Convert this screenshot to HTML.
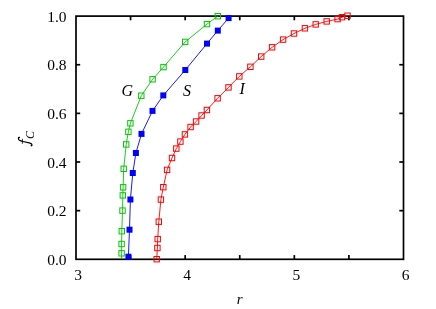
<!DOCTYPE html>
<html><head><meta charset="utf-8"><title>plot</title>
<style>
html,body{margin:0;padding:0;background:#fff;}
body{width:436px;height:309px;overflow:hidden;font-family:"Liberation Serif",serif;}
svg{display:block;position:absolute;left:0;top:0;will-change:transform;opacity:0.999;}
text{font-family:"Liberation Serif",serif;fill:#000;}
</style></head><body>
<svg width="436" height="309" viewBox="0 0 436 309">
<rect x="0" y="0" width="436" height="309" fill="#fff"/>
<g stroke="#000" stroke-width="1.7" fill="none" stroke-linecap="butt">
<rect x="76.0" y="16.1" width="327.5" height="243.20000000000002"/>
<line x1="130.58" y1="259.3" x2="130.58" y2="255.10000000000002"/>
<line x1="130.58" y1="16.1" x2="130.58" y2="20.3"/>
<line x1="185.17" y1="259.3" x2="185.17" y2="255.10000000000002"/>
<line x1="185.17" y1="16.1" x2="185.17" y2="20.3"/>
<line x1="239.75" y1="259.3" x2="239.75" y2="255.10000000000002"/>
<line x1="239.75" y1="16.1" x2="239.75" y2="20.3"/>
<line x1="294.33" y1="259.3" x2="294.33" y2="255.10000000000002"/>
<line x1="294.33" y1="16.1" x2="294.33" y2="20.3"/>
<line x1="348.92" y1="259.3" x2="348.92" y2="255.10000000000002"/>
<line x1="348.92" y1="16.1" x2="348.92" y2="20.3"/>
<line x1="76.0" y1="210.66" x2="80.2" y2="210.66"/>
<line x1="403.5" y1="210.66" x2="399.3" y2="210.66"/>
<line x1="76.0" y1="162.02" x2="80.2" y2="162.02"/>
<line x1="403.5" y1="162.02" x2="399.3" y2="162.02"/>
<line x1="76.0" y1="113.38" x2="80.2" y2="113.38"/>
<line x1="403.5" y1="113.38" x2="399.3" y2="113.38"/>
<line x1="76.0" y1="64.74" x2="80.2" y2="64.74"/>
<line x1="403.5" y1="64.74" x2="399.3" y2="64.74"/>
</g>
<polyline points="347.5,15.7 342.0,17.2 337.6,19.1 326.7,21.4 315.7,24.4 304.9,28.3 294.0,33.5 283.1,39.6 272.1,47.3 261.2,56.6 250.4,66.8 239.3,76.4 228.5,87.4 217.6,98.3 206.9,110.0 201.6,115.5 196.1,121.5 190.6,127.0 184.9,134.4 180.4,141.6 176.3,148.6 172.0,158.0 167.1,169.9 163.3,187.2 160.9,199.6 158.8,221.7 157.7,239.1 157.4,248.0 156.7,259.2" fill="none" stroke="#ff0000" stroke-width="0.9"/>
<rect x="344.8" y="13.0" width="5.4" height="5.4" fill="none" stroke="#ff0000" stroke-width="1"/>
<rect x="339.3" y="14.5" width="5.4" height="5.4" fill="none" stroke="#ff0000" stroke-width="1"/>
<rect x="334.9" y="16.4" width="5.4" height="5.4" fill="none" stroke="#ff0000" stroke-width="1"/>
<rect x="324.0" y="18.7" width="5.4" height="5.4" fill="none" stroke="#ff0000" stroke-width="1"/>
<rect x="313.0" y="21.7" width="5.4" height="5.4" fill="none" stroke="#ff0000" stroke-width="1"/>
<rect x="302.2" y="25.6" width="5.4" height="5.4" fill="none" stroke="#ff0000" stroke-width="1"/>
<rect x="291.3" y="30.8" width="5.4" height="5.4" fill="none" stroke="#ff0000" stroke-width="1"/>
<rect x="280.4" y="36.9" width="5.4" height="5.4" fill="none" stroke="#ff0000" stroke-width="1"/>
<rect x="269.4" y="44.6" width="5.4" height="5.4" fill="none" stroke="#ff0000" stroke-width="1"/>
<rect x="258.5" y="53.9" width="5.4" height="5.4" fill="none" stroke="#ff0000" stroke-width="1"/>
<rect x="247.7" y="64.1" width="5.4" height="5.4" fill="none" stroke="#ff0000" stroke-width="1"/>
<rect x="236.6" y="73.7" width="5.4" height="5.4" fill="none" stroke="#ff0000" stroke-width="1"/>
<rect x="225.8" y="84.7" width="5.4" height="5.4" fill="none" stroke="#ff0000" stroke-width="1"/>
<rect x="214.9" y="95.6" width="5.4" height="5.4" fill="none" stroke="#ff0000" stroke-width="1"/>
<rect x="204.2" y="107.3" width="5.4" height="5.4" fill="none" stroke="#ff0000" stroke-width="1"/>
<rect x="198.9" y="112.8" width="5.4" height="5.4" fill="none" stroke="#ff0000" stroke-width="1"/>
<rect x="193.4" y="118.8" width="5.4" height="5.4" fill="none" stroke="#ff0000" stroke-width="1"/>
<rect x="187.9" y="124.3" width="5.4" height="5.4" fill="none" stroke="#ff0000" stroke-width="1"/>
<rect x="182.2" y="131.7" width="5.4" height="5.4" fill="none" stroke="#ff0000" stroke-width="1"/>
<rect x="177.7" y="138.9" width="5.4" height="5.4" fill="none" stroke="#ff0000" stroke-width="1"/>
<rect x="173.6" y="145.9" width="5.4" height="5.4" fill="none" stroke="#ff0000" stroke-width="1"/>
<rect x="169.3" y="155.3" width="5.4" height="5.4" fill="none" stroke="#ff0000" stroke-width="1"/>
<rect x="164.4" y="167.2" width="5.4" height="5.4" fill="none" stroke="#ff0000" stroke-width="1"/>
<rect x="160.6" y="184.5" width="5.4" height="5.4" fill="none" stroke="#ff0000" stroke-width="1"/>
<rect x="158.2" y="196.9" width="5.4" height="5.4" fill="none" stroke="#ff0000" stroke-width="1"/>
<rect x="156.1" y="219.0" width="5.4" height="5.4" fill="none" stroke="#ff0000" stroke-width="1"/>
<rect x="155.0" y="236.4" width="5.4" height="5.4" fill="none" stroke="#ff0000" stroke-width="1"/>
<rect x="154.7" y="245.3" width="5.4" height="5.4" fill="none" stroke="#ff0000" stroke-width="1"/>
<rect x="154.0" y="256.5" width="5.4" height="5.4" fill="none" stroke="#ff0000" stroke-width="1"/>
<polyline points="217.8,16.2 207.0,24.1 185.2,41.9 163.5,67.1 152.6,79.3 141.3,95.7 130.4,123.3 128.4,131.8 126.2,144.4 123.7,168.8 123.1,187.3 122.8,195.4 122.5,210.6 121.8,231.2 121.6,244.0 121.6,253.3 121.5,259.0" fill="none" stroke="#00c800" stroke-width="0.9"/>
<rect x="215.1" y="13.5" width="5.4" height="5.4" fill="none" stroke="#00c800" stroke-width="1"/>
<rect x="204.3" y="21.4" width="5.4" height="5.4" fill="none" stroke="#00c800" stroke-width="1"/>
<rect x="182.5" y="39.2" width="5.4" height="5.4" fill="none" stroke="#00c800" stroke-width="1"/>
<rect x="160.8" y="64.4" width="5.4" height="5.4" fill="none" stroke="#00c800" stroke-width="1"/>
<rect x="149.9" y="76.6" width="5.4" height="5.4" fill="none" stroke="#00c800" stroke-width="1"/>
<rect x="138.6" y="93.0" width="5.4" height="5.4" fill="none" stroke="#00c800" stroke-width="1"/>
<rect x="127.7" y="120.6" width="5.4" height="5.4" fill="none" stroke="#00c800" stroke-width="1"/>
<rect x="125.7" y="129.1" width="5.4" height="5.4" fill="none" stroke="#00c800" stroke-width="1"/>
<rect x="123.5" y="141.7" width="5.4" height="5.4" fill="none" stroke="#00c800" stroke-width="1"/>
<rect x="121.0" y="166.1" width="5.4" height="5.4" fill="none" stroke="#00c800" stroke-width="1"/>
<rect x="120.4" y="184.6" width="5.4" height="5.4" fill="none" stroke="#00c800" stroke-width="1"/>
<rect x="120.1" y="192.7" width="5.4" height="5.4" fill="none" stroke="#00c800" stroke-width="1"/>
<rect x="119.8" y="207.9" width="5.4" height="5.4" fill="none" stroke="#00c800" stroke-width="1"/>
<rect x="119.1" y="228.5" width="5.4" height="5.4" fill="none" stroke="#00c800" stroke-width="1"/>
<rect x="118.9" y="241.3" width="5.4" height="5.4" fill="none" stroke="#00c800" stroke-width="1"/>
<rect x="118.9" y="250.6" width="5.4" height="5.4" fill="none" stroke="#00c800" stroke-width="1"/>
<polyline points="228.6,18.1 217.8,30.6 207.0,43.6 185.3,70.0 163.3,95.4 152.5,110.9 141.5,133.9 135.9,153.0 132.8,173.0 130.4,199.5 129.5,229.7 128.4,256.7" fill="none" stroke="#0000ff" stroke-width="0.9"/>
<rect x="225.6" y="15.1" width="6.0" height="6.0" fill="#0000ff"/>
<rect x="214.8" y="27.6" width="6.0" height="6.0" fill="#0000ff"/>
<rect x="204.0" y="40.6" width="6.0" height="6.0" fill="#0000ff"/>
<rect x="182.3" y="67.0" width="6.0" height="6.0" fill="#0000ff"/>
<rect x="160.3" y="92.4" width="6.0" height="6.0" fill="#0000ff"/>
<rect x="149.5" y="107.9" width="6.0" height="6.0" fill="#0000ff"/>
<rect x="138.5" y="130.9" width="6.0" height="6.0" fill="#0000ff"/>
<rect x="132.9" y="150.0" width="6.0" height="6.0" fill="#0000ff"/>
<rect x="129.8" y="170.0" width="6.0" height="6.0" fill="#0000ff"/>
<rect x="127.4" y="196.5" width="6.0" height="6.0" fill="#0000ff"/>
<rect x="126.5" y="226.7" width="6.0" height="6.0" fill="#0000ff"/>
<rect x="125.4" y="253.7" width="6.0" height="6.0" fill="#0000ff"/>
<g font-size="16px">
<text x="66.5" y="264.8" text-anchor="end" font-size="15.5px">0.0</text>
<text x="66.5" y="216.2" text-anchor="end" font-size="15.5px">0.2</text>
<text x="66.5" y="167.5" text-anchor="end" font-size="15.5px">0.4</text>
<text x="66.5" y="118.9" text-anchor="end" font-size="15.5px">0.6</text>
<text x="66.5" y="70.2" text-anchor="end" font-size="15.5px">0.8</text>
<text x="66.5" y="21.6" text-anchor="end" font-size="15.5px">1.0</text>
<text x="78.0" y="280.3" text-anchor="middle" font-size="15.5px">3</text>
<text x="187.2" y="280.3" text-anchor="middle" font-size="15.5px">4</text>
<text x="296.3" y="280.3" text-anchor="middle" font-size="15.5px">5</text>
<text x="405.5" y="280.3" text-anchor="middle" font-size="15.5px">6</text>
<text x="236.8" y="303.8" font-style="italic" font-size="15px">r</text>
<text x="121.5" y="96" font-style="italic">G</text>
<text x="183" y="96" font-style="italic">S</text>
<text x="239.5" y="94.3" font-style="italic">I</text>
<g transform="translate(29,145.8) rotate(-90)" font-style="italic"><g fill="none" stroke="#000" stroke-linecap="round"><path d="M 8.4,-9.9 C 8.3,-10.9 6.4,-11.1 5.5,-9.6 C 4.9,-8.6 4.6,-7.4 4.3,-6.0 L 2.9,0.2 C 2.5,1.9 1.9,3.0 0.8,3.0 C 0.2,3.0 0.0,2.7 0.0,2.3" stroke-width="1.1"/><path d="M 2.4,-6.6 L 6.6,-6.6" stroke-width="0.8"/></g><circle cx="8.2" cy="-9.8" r="0.8" fill="#000"/><circle cx="0.3" cy="2.4" r="0.8" fill="#000"/><text transform="translate(6.8,4.8) scale(0.92,1)" font-size="13px">C</text></g>
</g>
</svg></body></html>
